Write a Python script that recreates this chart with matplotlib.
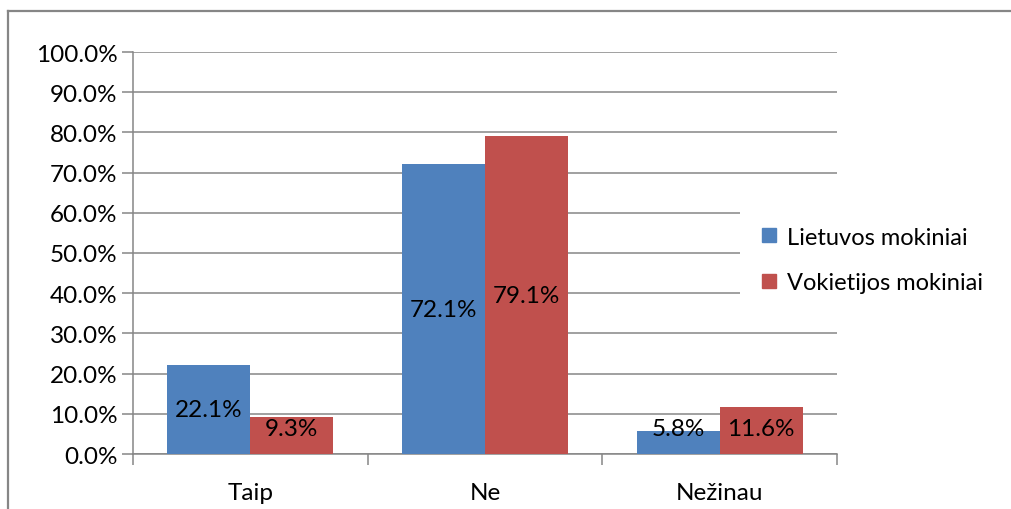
import numpy as np
import matplotlib
matplotlib.use('Agg')
import matplotlib.pyplot as plt
from matplotlib.lines import Line2D
from matplotlib.patches import Rectangle

plt.rcParams['font.family'] = ['Lato', 'DejaVu Sans']

# duomenys
kategorijos = ['Taip', 'Ne', 'Nežinau']
lietuvos = [22.1, 72.1, 5.8]
vokietijos = [9.3, 79.1, 11.6]
serijos = ['Lietuvos mokiniai', 'Vokietijos mokiniai']
yticks = np.arange(0, 101, 10)

melyna = '#4F81BD'
raudona = '#C0504D'
pilka = '#868686'

W, H = 1011, 510
fig = plt.figure(figsize=(W / 100, H / 100), dpi=100)
ax = fig.add_axes([133 / W, 1 - 455 / H, (837 - 133) / W, (455 - 53) / H])

x = np.arange(len(kategorijos))
plotis = 0.354
b1 = ax.bar(x - plotis / 2, lietuvos, plotis, color=melyna, zorder=3)
b2 = ax.bar(x + plotis / 2, vokietijos, plotis, color=raudona, zorder=3)

fs = 17.5
for bars, vals in [(b1, lietuvos), (b2, vokietijos)]:
    for r, v in zip(bars, vals):
        ax.text(r.get_x() + r.get_width() / 2, max(v / 2, 6.3), f'{v:.1f}%',
                ha='center', va='center', fontsize=fs, color='black', zorder=4)

ax.set_xlim(-0.5, 2.5)
ax.set_ylim(0, 100)
ax.set_yticks(yticks)
ax.set_yticklabels([f'{t:.1f}%' for t in yticks], fontsize=fs)
ax.set_xticks(np.arange(-0.5, 2.6, 1))
ax.set_xticklabels([])
ax.set_xticks(x, minor=True)
ax.set_xticklabels(kategorijos, minor=True, fontsize=fs)
ax.tick_params(axis='x', which='minor', length=0, pad=20)
ax.tick_params(axis='x', which='major', length=8, width=1.1, color=pilka, direction='out')
ax.tick_params(axis='y', length=8, width=1.1, color=pilka, direction='out', pad=3)
ax.grid(axis='y', color=pilka, linewidth=1.1, zorder=0)
for s in ['top', 'right']:
    ax.spines[s].set_visible(False)
for s in ['left', 'bottom']:
    ax.spines[s].set_color(pilka)
    ax.spines[s].set_linewidth(1.1)

# legendos fonas (baltas), uždengia tinklelį
fig.add_artist(Rectangle((740 / W, 1 - 301 / H), (1005 - 740) / W, (301 - 213) / H,
                         transform=fig.transFigure, facecolor='white',
                         edgecolor='none', zorder=2))

# legenda
rankenos = [Line2D([], [], marker='s', linestyle='none', markersize=10,
                   markerfacecolor=c, markeredgecolor=c) for c in (melyna, raudona)]
leg = fig.legend(rankenos, serijos, loc='center left',
                 bbox_to_anchor=(760 / W, 1 - 261 / H), fontsize=17,
                 frameon=False, handlelength=0.8, handletextpad=0.35,
                 labelspacing=1.05, borderpad=0, borderaxespad=0)
leg.set_zorder(3)

# rėmelis
fig.add_artist(Line2D([8 / W, 1], [1 - 12 / H, 1 - 12 / H], color=pilka, linewidth=1.6))
fig.add_artist(Line2D([8 / W, 8 / W], [0, 1 - 12 / H], color=pilka, linewidth=1.6))

fig.savefig('out.png', dpi=100)
